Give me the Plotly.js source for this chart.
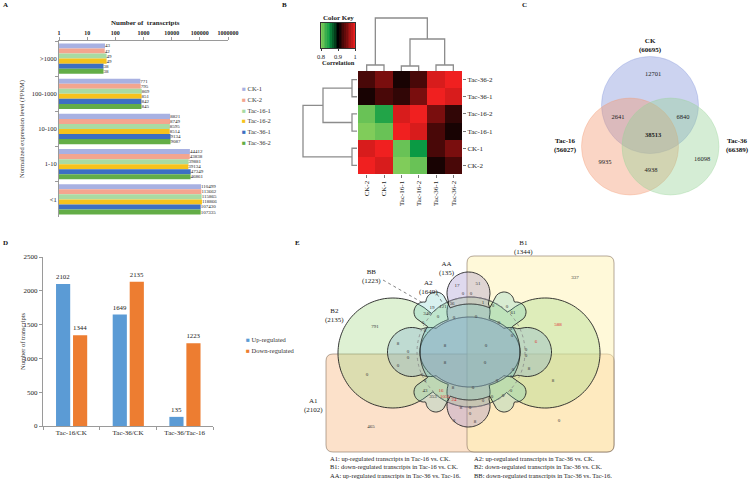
<!DOCTYPE html>
<html>
<head>
<meta charset="utf-8">
<script src="https://cdn.plot.ly/plotly-3.0.1.min.js"></script>
<style>
  html, body { margin: 0; padding: 0; background: #fff; }
  #chart { width: 749px; height: 479px; }
</style>
</head>
<body>
<div id="chart"></div>
<script>
const W = 749, H = 479;

// ---- A: transcripts per expression level
const levels = ['>1000', '100-1000', '10-100', '1-10', '<1'];
const samples = ['CK-1', 'CK-2', 'Tac-16-1', 'Tac-16-2', 'Tac-36-1', 'Tac-36-2'];
const countsBySample = [
    [43, 771, 8821, 44412, 110499],
    [42, 795, 8749, 43838, 113662],
    [49, 869, 8595, 39881, 115865],
    [49, 851, 8514, 39134, 118866],
    [38, 842, 9134, 47349, 107430],
    [38, 845, 9087, 46861, 107335]
];
const sampleColors = ['#a8b1e2', '#f3a58f', '#a8dba3', '#f6c21c', '#3d6fc2', '#63ad47'];

// ---- B: correlation heatmap (rows / cols in dendrogram order, bottom->top, left->right)
const hmOrder = ['CK-2', 'CK-1', 'Tac-16-1', 'Tac-16-2', 'Tac-36-1', 'Tac-36-2'];
const corr = [
    [1.00, 0.99, 0.80, 0.81, 0.91, 0.93],
    [0.99, 1.00, 0.81, 0.85, 0.93, 0.95],
    [0.80, 0.81, 1.00, 0.99, 0.93, 0.91],
    [0.81, 0.84, 0.99, 1.00, 0.95, 0.92],
    [0.91, 0.93, 0.92, 0.95, 1.00, 0.99],
    [0.93, 0.95, 0.91, 0.93, 0.99, 1.00]
];
const keyVals = [0.80, 0.81, 0.82, 0.83, 0.84, 0.85, 0.86, 0.87, 0.88, 0.89, 0.90,
                 0.91, 0.92, 0.93, 0.94, 0.95, 0.96, 0.97, 0.98, 0.99, 1.00];
// merges: [child a, child b, height]; leaves 0..5, new clusters numbered from 6
const colMerges = [[0, 1, 0.030], [2, 3, 0.025], [4, 5, 0.030], [7, 8, 0.160], [6, 9, 0.265]];
const rowMerges = [[0, 1, 0.025], [2, 3, 0.025], [4, 5, 0.025], [7, 8, 0.170], [6, 9, 0.270]];

// ---- C: three-way Venn
const vennSets = ['CK', 'Tac-16', 'Tac-36'];
const vennTotals = [60695, 56027, 66389];
const vennCounts = [12701, 2641, 6840, 38513, 9935, 4938, 16098];

// ---- D: differentially expressed transcripts
const compare = ['Tac-16/CK', 'Tac-36/CK', 'Tac-36/Tac-16'];
const upReg = [2102, 1649, 135];
const downReg = [1344, 2135, 1223];

// ---- E: six-way Venn
const eSets = ['A1', 'A2', 'B1', 'B2', 'AA', 'BB'];
const eTotals = [2102, 1649, 1344, 2135, 135, 1223];
const eCounts = [337, 588, 6, 8, 0, 791, 0, 465,
    17, 51, 0, 0, 1, 36, 121, 19, 346, 0, 0, 0, 0, 0, 61, 0, 0,
    0, 0, 8, 0, 0, 0, 0, 0,
    8, 0, 8, 0,
    0, 0, 0, 0, 0, 0, 8,
    43, 16, 353, 1051, 24,
    8, 0, 8, 0, 0, 0, 0, 0, 0, 8, 8];
const eRed = [588, 6, 16, 1051, 24];

// ---------- helpers
const px = x => x / W;
const py = y => 1 - y / H;
const SERIF = 'Liberation Serif, Times New Roman, serif';

function dendroLines(merges, n) {
    const pos = [], ht = [], a = [], b = [];
    for (let i = 0; i < n; i++) { pos.push(i); ht.push(0); }
    merges.forEach(([i, j, h]) => {
        a.push(pos[i], pos[i], pos[j], pos[j], null);
        b.push(ht[i], h, h, ht[j], null);
        pos.push((pos[i] + pos[j]) / 2);
        ht.push(h);
    });
    return [a, b];
}

function exitCircle(cx, cy, ang, ox, oy, r) {
    const dx = Math.cos(ang), dy = Math.sin(ang);
    const qx = ox - cx, qy = oy - cy;
    const b = dx * qx + dy * qy;
    const disc = b * b - (qx * qx + qy * qy) + r * r;
    if (disc < 0) return 0;
    return Math.max(0, b + Math.sqrt(disc));
}

function blobPath(cx, cy, circles, ell) {
    let d = '';
    for (let i = 0; i < 360; i++) {
        const ang = i * Math.PI / 180;
        let r = 0;
        if (ell) r = 1 / Math.sqrt(Math.pow(Math.cos(ang) / ell[0], 2) + Math.pow(Math.sin(ang) / ell[1], 2));
        circles.forEach(c => { r = Math.max(r, exitCircle(cx, cy, ang, c[0], c[1], c[2])); });
        d += (i ? 'L' : 'M') + (cx + r * Math.cos(ang)).toFixed(1) + ',' + (cy + r * Math.sin(ang)).toFixed(1);
    }
    return d + 'Z';
}

function roundRect(x0, y0, x1, y1, r) {
    return `M${x0 + r},${y0} L${x1 - r},${y0} Q${x1},${y0} ${x1},${y0 + r} L${x1},${y1 - r} Q${x1},${y1} ${x1 - r},${y1} ` +
           `L${x0 + r},${y1} Q${x0},${y1} ${x0},${y1 - r} L${x0},${y0 + r} Q${x0},${y0} ${x0 + r},${y0} Z`;
}

function note(text, x, y, extra) {
    return Object.assign({ text: text, x: x, y: y, xref: 'x7', yref: 'y7', showarrow: false,
        font: { family: SERIF, size: 7, color: '#222' } }, extra || {});
}

// ---------- traces
const traces = [];

samples.forEach((s, i) => traces.push({
    type: 'bar', orientation: 'h', name: s, y: levels, x: countsBySample[i],
    xaxis: 'x', yaxis: 'y', marker: { color: sampleColors[i] },
    text: countsBySample[i].map(String), textposition: 'outside', constraintext: 'none',
    textfont: { family: SERIF, size: 5, color: '#222' }, cliponaxis: false
}));

traces.push({
    type: 'bar', x: compare, y: upReg, xaxis: 'x2', yaxis: 'y2', width: 0.25, offset: -0.27,
    marker: { color: '#5b9bd5' }, text: upReg.map(String), textposition: 'outside',
    textfont: { family: SERIF, size: 7, color: '#222' }, cliponaxis: false
});
traces.push({
    type: 'bar', x: compare, y: downReg, xaxis: 'x2', yaxis: 'y2', width: 0.25, offset: 0.03,
    marker: { color: '#ed7d31' }, text: downReg.map(String), textposition: 'outside',
    textfont: { family: SERIF, size: 7, color: '#222' }, cliponaxis: false
});

const corrScale = [[0, '#80cc5a'], [0.25, '#0b9a44'], [0.5, '#000000'], [0.75, '#7a0e0e'], [1, '#f02020']];
const idx = hmOrder.map((_, i) => i);
traces.push({
    type: 'heatmap', x: idx, y: idx, z: corr, zmin: 0.8, zmax: 1, colorscale: corrScale,
    showscale: false, xaxis: 'x3', yaxis: 'y3'
});
traces.push({
    type: 'heatmap', x: keyVals, y: [0], z: [keyVals], zmin: 0.8, zmax: 1, colorscale: corrScale,
    showscale: false, xaxis: 'x4', yaxis: 'y4'
});

const colD = dendroLines(colMerges, 6);
const rowD = dendroLines(rowMerges, 6);
traces.push({ type: 'scatter', mode: 'lines', x: colD[0], y: colD[1], xaxis: 'x5', yaxis: 'y5',
    line: { color: '#8c8c8c', width: 1.3 }, connectgaps: false });
traces.push({ type: 'scatter', mode: 'lines', x: rowD[1], y: rowD[0], xaxis: 'x6', yaxis: 'y6',
    line: { color: '#8c8c8c', width: 1.3 }, connectgaps: false });

// Venn C region counts
const vennCPos = [[653, 74], [618, 117], [683, 117], [653, 135], [605, 162], [651, 170], [702, 159]];
traces.push({
    type: 'scatter', mode: 'text', xaxis: 'x7', yaxis: 'y7',
    x: vennCPos.map(p => p[0]), y: vennCPos.map(p => p[1]),
    text: vennCounts.map((v, i) => i === 3 ? '<b>' + v + '</b>' : String(v)),
    textfont: { family: SERIF, size: 6.5, color: '#222' }
});

// Venn E region counts
const ePos = [[575, 278], [558, 325], [536, 342], [553, 381], [559, 421], [375, 327], [367, 375], [371, 427],
    [457, 286], [478, 284], [463, 294], [471, 294], [483, 303], [452, 304], [443, 307], [432, 308], [427, 314],
    [438, 317], [454, 318], [476, 317], [493, 306], [507, 307], [513, 313], [499, 323], [511, 329],
    [423, 323], [425, 331], [398, 344], [408, 352], [408, 358], [398, 366], [422, 375], [425, 381],
    [445, 346], [486, 346], [445, 363], [485, 363],
    [526, 350], [526, 356], [512, 336], [513, 370], [511, 377], [497, 381], [529, 369],
    [425, 391], [441, 391], [433, 397], [445, 397], [454, 400],
    [453, 388], [473, 388], [461, 408], [470, 408], [511, 391], [503, 396], [492, 397], [483, 401], [470, 414], [454, 421], [475, 422]];
traces.push({
    type: 'scatter', mode: 'text', xaxis: 'x7', yaxis: 'y7',
    x: ePos.map(p => p[0]), y: ePos.map(p => p[1]),
    text: eCounts.map(String),
    textfont: { family: SERIF, size: 5, color: eCounts.map(v => eRed.includes(v) ? '#e03030' : '#333') }
});

// ---------- shapes
const shapes = [];
const venn = [
    [650, 105, 'rgba(120,140,215,0.38)'],
    [630, 146.5, 'rgba(243,150,110,0.40)'],
    [670.5, 146.5, 'rgba(150,210,150,0.40)']
];
venn.forEach(v => shapes.push({ type: 'circle', xref: 'x7', yref: 'y7', layer: 'below',
    x0: v[0] - 48.5, x1: v[0] + 48.5, y0: v[1] - 48.5, y1: v[1] + 48.5,
    fillcolor: v[2], line: { color: v[2], width: 0.8 } }));

const cx = 470, cy = 352;
shapes.push({ type: 'path', xref: 'x7', yref: 'y7', layer: 'below', path: roundRect(326, 354, 614, 452, 7),
    fillcolor: 'rgba(250,195,150,0.5)', line: { color: 'rgba(140,120,100,0.8)', width: 0.8 } });
shapes.push({ type: 'path', xref: 'x7', yref: 'y7', layer: 'below', path: roundRect(467, 256, 614, 452, 7),
    fillcolor: 'rgba(255,243,180,0.5)', line: { color: 'rgba(140,120,100,0.8)', width: 0.8 } });
// B2: two large lobes left / right
shapes.push({ type: 'path', xref: 'x7', yref: 'y7', layer: 'below',
    path: blobPath(cx, cy, [[393, 353, 55], [545, 353, 55]], [54, 55]),
    fillcolor: 'rgba(160,215,130,0.35)', line: { color: '#222', width: 0.9 } });
// A2: horizontal lobes
shapes.push({ type: 'path', xref: 'x7', yref: 'y7', layer: 'below',
    path: blobPath(cx, cy, [[412, 352, 24.5], [430, 352, 24.5], [510, 352, 24.5], [527, 352, 24.5]], [46, 35]),
    fillcolor: 'rgba(120,170,210,0.30)', line: { color: '#222', width: 0.9 } });
// AA: vertical lobes
shapes.push({ type: 'path', xref: 'x7', yref: 'y7', layer: 'below',
    path: blobPath(cx, cy, [[468.5, 293.5, 21.5], [468.5, 312, 21.5], [468.5, 392, 21.5], [468.5, 405.5, 21.5]], [50, 36]),
    fillcolor: 'rgba(150,130,200,0.30)', line: { color: '#222', width: 0.9 } });
// BB: small diagonal bumps
shapes.push({ type: 'path', xref: 'x7', yref: 'y7', layer: 'below',
    path: blobPath(cx, cy, [[424, 312, 10], [436, 302, 10], [504, 302, 10], [516, 312, 10],
                            [424, 392, 10], [436, 402, 10], [504, 402, 10], [516, 392, 10]], [50, 48]),
    fillcolor: 'rgba(100,200,190,0.25)', line: { color: '#222', width: 0.9 } });
shapes.push({ type: 'circle', xref: 'x7', yref: 'y7', layer: 'below', x0: 417, x1: 525, y0: 297, y1: 407,
    line: { color: '#888', width: 0.8, dash: 'dot' } });
shapes.push({ type: 'line', xref: 'x7', yref: 'y7', x0: 383, y0: 280, x1: 423, y1: 303,
    line: { color: '#666', width: 0.8, dash: 'dot' } });
shapes.push({ type: 'line', xref: 'x7', yref: 'y7', x0: 437, y0: 294, x1: 442, y1: 302,
    line: { color: '#666', width: 0.8, dash: 'dot' } });

// ---------- annotations
const ann = [];
[['A', 5, 5], ['B', 284, 5], ['C', 524, 5], ['D', 5, 243], ['E', 297, 243]].forEach(l =>
    ann.push(note('<b>' + l[0] + '</b>', l[1], l[2], { font: { family: SERIF, size: 7, color: '#111' } })));

ann.push(note('<b>Number of  transcripts</b>', 145, 23));
ann.push(note('Normalized expression level (FPKM)', 22, 129, { textangle: -90, font: { family: SERIF, size: 6.5, color: '#333' } }));
samples.forEach((s, i) => ann.push(note(`<span style="color:${sampleColors[i]}">■</span> ${s}`, 240, 88.5 + i * 10.8,
    { xanchor: 'left', font: { family: SERIF, size: 6.5, color: '#333' } })));

ann.push(note('Number of transcripts', 22, 341, { textangle: -90, font: { family: SERIF, size: 6.5, color: '#333' } }));
ann.push(note('<span style="color:#5b9bd5">■</span> Up-regulated', 244, 339, { xanchor: 'left', font: { family: SERIF, size: 6.5, color: '#333' } }));
ann.push(note('<span style="color:#ed7d31">■</span> Down-regulated', 244, 350, { xanchor: 'left', font: { family: SERIF, size: 6.5, color: '#333' } }));

ann.push(note('<b>Color Key</b>', 338, 18));
ann.push(note('<b>Correlation</b>', 338, 62, { font: { family: SERIF, size: 6.5, color: '#222' } }));

const vennLabelPos = [[650, 45], [565, 145], [737, 145]];
vennSets.forEach((s, i) => ann.push(note(`<b>${s}<br>(${vennTotals[i]})</b>`, vennLabelPos[i][0], vennLabelPos[i][1],
    { font: { family: SERIF, size: 7, color: '#111' } })));

const eLabelPos = [[313, 405], [428, 287], [523, 247], [334, 315], [447, 268], [371, 276]];
eSets.forEach((s, i) => ann.push(note(`${s}<br>(${eTotals[i]})`, eLabelPos[i][0], eLabelPos[i][1],
    { font: { family: SERIF, size: 7, color: '#222' } })));

const eNotes = [
    ['A1: up-regulated transcripts in Tac-16 vs. CK.', 'A2: up-regulated transcripts in Tac-36 vs. CK.'],
    ['B1: down-regulated transcripts in Tac-16 vs. CK.', 'B2: down-regulated transcripts in Tac-36 vs. CK.'],
    ['AA: up-regulated transcripts in Tac-36 vs. Tac-16.', 'BB: down-regulated transcripts in Tac-36 vs. Tac-16.']
];
eNotes.forEach((row, i) => {
    ann.push(note(row[0], 328, 458 + i * 8.5, { xanchor: 'left', font: { family: SERIF, size: 6.5, color: '#222' } }));
    ann.push(note(row[1], 472, 458 + i * 8.5, { xanchor: 'left', font: { family: SERIF, size: 6.5, color: '#222' } }));
});

// ---------- layout
const axLine = { showline: true, linecolor: '#9a9a9a', linewidth: 1, ticks: 'outside', ticklen: 3,
    tickcolor: '#9a9a9a', showgrid: false, zeroline: false };
const hidden = { visible: false, showgrid: false, zeroline: false };

const layout = {
    width: W, height: H,
    margin: { l: 0, r: 0, t: 0, b: 0 },
    paper_bgcolor: '#fff', plot_bgcolor: 'rgba(0,0,0,0)',
    font: { family: SERIF, size: 7, color: '#222' },
    showlegend: false, hovermode: false,
    barmode: 'group', bargap: 0.14, bargroupgap: 0,
    xaxis: Object.assign({}, axLine, {
        domain: [px(59), px(228)], anchor: 'y', type: 'log', range: [0, 6], side: 'top',
        tickvals: [1, 10, 100, 1000, 10000, 100000, 1000000],
        ticktext: ['1', '10', '100', '1000', '10000', '100000', '1000000'].map(t => '<b>' + t + '</b>'),
        tickfont: { size: 6 }
    }),
    yaxis: Object.assign({}, axLine, {
        domain: [py(217), py(41)], anchor: 'x', type: 'category', autorange: 'reversed',
        tickson: 'boundaries', tickfont: { size: 6.5 }
    }),
    xaxis2: Object.assign({}, axLine, {
        domain: [px(43), px(213)], anchor: 'y2', type: 'category', tickson: 'boundaries', tickfont: { size: 7 }
    }),
    yaxis2: Object.assign({}, axLine, {
        domain: [py(426), py(257)], anchor: 'x2', range: [0, 2500], dtick: 500, tickfont: { size: 7 }
    }),
    xaxis3: {
        domain: [px(358), px(462)], anchor: 'y3', range: [-0.5, 5.5], tickvals: idx, ticktext: hmOrder,
        tickangle: -90, ticks: 'outside', ticklen: 3, tickcolor: '#777', showgrid: false, zeroline: false,
        tickfont: { size: 7 }
    },
    yaxis3: {
        domain: [py(174), py(71)], anchor: 'x3', side: 'right', range: [-0.5, 5.5], tickvals: idx, ticktext: hmOrder,
        ticks: 'outside', ticklen: 3, tickcolor: '#777', showgrid: false, zeroline: false, tickfont: { size: 7 }
    },
    xaxis4: {
        domain: [px(321), px(355)], anchor: 'y4', range: [0.8, 1], tickvals: [0.8, 0.9, 1], ticktext: ['0.8', '0.9', '1'],
        ticks: 'outside', ticklen: 2, tickcolor: '#333', showline: true, mirror: true, linecolor: '#333',
        showgrid: false, zeroline: false, tickfont: { size: 6.5 }
    },
    yaxis4: {
        domain: [py(48), py(23)], anchor: 'x4', range: [-0.5, 0.5], showticklabels: false, ticks: '',
        showline: true, mirror: true, linecolor: '#333', showgrid: false, zeroline: false
    },
    xaxis5: Object.assign({}, hidden, { domain: [px(358), px(462)], anchor: 'y5', range: [-0.5, 5.5] }),
    yaxis5: Object.assign({}, hidden, { domain: [py(71), py(14)], anchor: 'x5', range: [0, 0.285] }),
    xaxis6: Object.assign({}, hidden, { domain: [px(300), px(357)], anchor: 'y6', range: [0.285, 0] }),
    yaxis6: Object.assign({}, hidden, { domain: [py(174), py(71)], anchor: 'x6', range: [-0.5, 5.5] }),
    xaxis7: Object.assign({}, hidden, { domain: [0, 1], anchor: 'y7', range: [0, W] }),
    yaxis7: Object.assign({}, hidden, { domain: [0, 1], anchor: 'x7', range: [H, 0] }),
    shapes: shapes,
    annotations: ann
};

Plotly.newPlot('chart', traces, layout, { displayModeBar: false, staticPlot: true });
</script>
</body>
</html>
